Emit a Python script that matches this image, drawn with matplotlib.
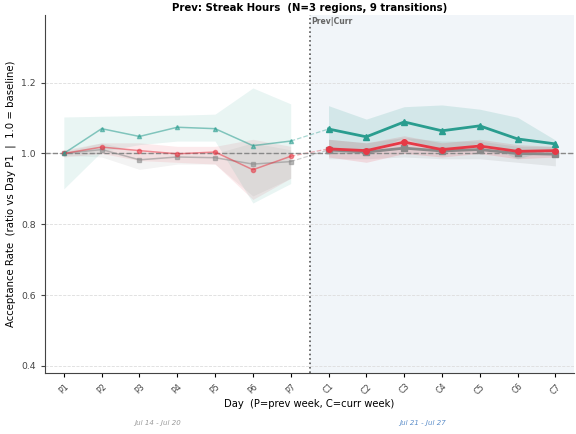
import matplotlib
matplotlib.use("Agg")
import matplotlib.pyplot as plt
import numpy as np

# Day labels
prev_days = ['P1', 'P2', 'P3', 'P4', 'P5', 'P6', 'P7']
curr_days = ['C1', 'C2', 'C3', 'C4', 'C5', 'C6', 'C7']

# Teal series (ratio vs P1)
teal_prev = [1.000, 1.070, 1.048, 1.074, 1.070, 1.022, 1.035]
teal_prev_lo = [0.900, 1.005, 1.025, 1.035, 1.035, 0.860, 0.915]
teal_prev_hi = [1.103, 1.105, 1.107, 1.108, 1.111, 1.185, 1.140]
teal_curr = [1.069, 1.047, 1.089, 1.064, 1.078, 1.041, 1.027]
teal_curr_lo = [1.000, 1.000, 1.045, 1.000, 1.030, 0.985, 1.015]
teal_curr_hi = [1.135, 1.097, 1.132, 1.137, 1.125, 1.102, 1.038]

# Red series
red_prev = [1.000, 1.018, 1.008, 0.999, 1.004, 0.954, 0.992]
red_prev_lo = [0.990, 1.000, 0.980, 0.975, 0.970, 0.870, 0.930]
red_prev_hi = [1.010, 1.030, 1.030, 1.020, 1.020, 1.040, 1.020]
red_curr = [1.013, 1.008, 1.032, 1.011, 1.021, 1.006, 1.008]
red_curr_lo = [0.990, 0.975, 1.000, 0.990, 1.000, 0.985, 0.990]
red_curr_hi = [1.040, 1.030, 1.050, 1.030, 1.040, 1.025, 1.020]

# Gray series
gray_prev = [1.000, 1.011, 0.982, 0.990, 0.988, 0.970, 0.977]
gray_prev_lo = [0.995, 0.990, 0.955, 0.970, 0.970, 0.880, 0.930]
gray_prev_hi = [1.005, 1.030, 1.005, 1.000, 1.000, 1.030, 1.010]
gray_curr = [1.010, 1.004, 1.015, 1.007, 1.011, 1.000, 0.998]
gray_curr_lo = [0.985, 0.985, 0.990, 0.985, 0.985, 0.975, 0.965]
gray_curr_hi = [1.040, 1.030, 1.045, 1.035, 1.035, 1.020, 1.020]

week_labels = ['Jul 14 - Jul 20', 'Jul 21 - Jul 27']

TEAL = '#2a9d8f'
RED = '#e63946'
GRAY = '#8a8a8a'

fig = plt.figure(figsize=(5.76, 4.34), dpi=100)
ax = fig.add_axes([0.078, 0.1406, 0.919, 0.824])

xp = np.arange(len(prev_days))
xc = np.arange(len(curr_days)) + len(prev_days)

# shade the current week
ax.axvspan(6.5, 13.5, color='#dce8f2', alpha=0.4, lw=0, zorder=0)

series = [
    (GRAY, 's', gray_prev, gray_prev_lo, gray_prev_hi, gray_curr, gray_curr_lo, gray_curr_hi),
    (RED, 'o', red_prev, red_prev_lo, red_prev_hi, red_curr, red_curr_lo, red_curr_hi),
    (TEAL, '^', teal_prev, teal_prev_lo, teal_prev_hi, teal_curr, teal_curr_lo, teal_curr_hi),
]

for color, mk, p, plo, phi, c, clo, chi in series:
    ax.fill_between(xp, plo, phi, color=color, alpha=0.10, lw=0, zorder=1)
    ax.fill_between(xc, clo, chi, color=color, alpha=0.15, lw=0, zorder=1)
    ax.plot(xp, p, color=color, marker=mk, ms=3, lw=1.1, alpha=0.55, zorder=3)
    # bridge between P7 and C1
    ax.plot([xp[-1], xc[0]], [p[-1], c[0]], color=color, lw=0.9, ls='--',
            alpha=0.4, zorder=2)
    ax.plot(xc, c, color=color, marker=mk, ms=4, lw=2.0, zorder=4)

ax.axhline(1.0, color='#888888', ls='--', lw=1.0, zorder=2)
ax.axvline(6.5, color='#555555', ls=':', lw=1.2, zorder=2)
ax.text(6.55, 1.385, 'Prev|Curr', fontsize=5.5, fontweight='bold', color='#666666',
        ha='left', va='top')

ax.set_xlim(-0.5, 13.5)
ax.set_ylim(0.38, 1.39)
ax.set_yticks([0.4, 0.6, 0.8, 1.0, 1.2])
ax.set_xticks(np.arange(14))
ax.set_xticklabels(prev_days + curr_days, rotation=45, fontsize=5.8, color='#444444')
ax.tick_params(axis='y', labelsize=6.7, colors='#444444')
ax.tick_params(axis='both', length=3, width=0.8)
ax.yaxis.grid(True, ls='--', color='#dddddd', lw=0.6)
ax.set_axisbelow(True)
for s in ['top', 'right']:
    ax.spines[s].set_visible(False)
for s in ['left', 'bottom']:
    ax.spines[s].set_color('#444444')

ax.set_xlabel('Day  (P=prev week, C=curr week)', fontsize=7.2, labelpad=2)
ax.set_ylabel('Acceptance Rate  (ratio vs Day P1  |  1.0 = baseline)', fontsize=7.3)
ax.set_title('Prev: Streak Hours  (N=3 regions, 9 transitions)', fontsize=7.3,
             fontweight='bold', pad=3)

fig.text(158 / 576, 1 - 423 / 434, week_labels[0], fontsize=5, style='italic',
         color='#9a9a9a', ha='center', va='center')
fig.text(423 / 576, 1 - 423 / 434, week_labels[1], fontsize=5, style='italic',
         color='#5b8dc9', ha='center', va='center')

fig.savefig('out.png', dpi=100)
